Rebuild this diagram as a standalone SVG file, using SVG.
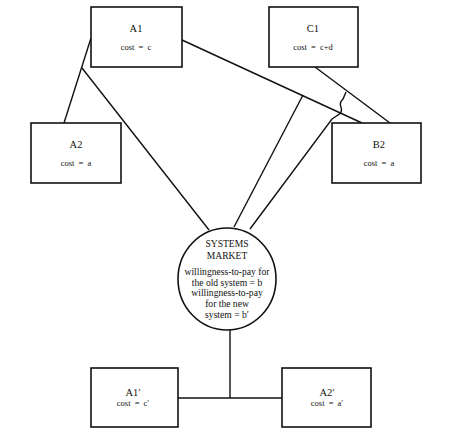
<svg xmlns="http://www.w3.org/2000/svg" width="450" height="438" viewBox="0 0 450 438">
<style>
.box{fill:#fff;stroke:#111;stroke-width:1.6}
.ln{fill:none;stroke:#111;stroke-width:1.4}
.t{font-family:"Liberation Serif",serif;fill:#111;text-anchor:middle}
.nm{font-size:10.5px}
.cs{font-size:8.5px;word-spacing:2px}
.ct{font-size:9.6px}
</style>
<rect width="450" height="438" fill="#fff"/>
<g id="connectors">
<path class="ln" d="M91,38 L64,123"/>
<path class="ln" d="M82,68 L209,230"/>
<path class="ln" d="M182,40 L362,123"/>
<path class="ln" d="M315,67 L390,123"/>
<path class="ln" d="M303,95 L234,227"/>
<path class="ln" d="M346,92 L343,99 Q339,103 341,107 Q343,112 338,115 L332,119 L250,229"/>
<path class="ln" d="M230,330 L230,398"/>
<path class="ln" d="M178,398 L282,398"/>
</g>
<g id="A1">
<rect class="box" x="91" y="7" width="91" height="60"/>
<text class="t nm" x="136" y="32">A1</text>
<text class="t cs" x="136" y="50">cost = c</text>
</g>
<g id="C1">
<rect class="box" x="269" y="7" width="89" height="60"/>
<text class="t nm" x="313" y="32">C1</text>
<text class="t cs" x="313" y="50">cost = c+d</text>
</g>
<g id="A2">
<rect class="box" x="31" y="123" width="90" height="60"/>
<text class="t nm" x="76" y="148">A2</text>
<text class="t cs" x="76" y="166">cost = a</text>
</g>
<g id="B2">
<rect class="box" x="332" y="123" width="89" height="60"/>
<text class="t nm" x="379" y="148">B2</text>
<text class="t cs" x="379" y="166">cost = a</text>
</g>
<g id="market">
<ellipse class="box" cx="227" cy="279" rx="49" ry="51"/>
<text class="t ct" x="227" y="247">SYSTEMS</text>
<text class="t ct" x="227" y="259">MARKET</text>
<text class="t ct" x="227" y="275">willingness-to-pay for</text>
<text class="t ct" x="227" y="286">the old system = b</text>
<text class="t ct" x="227" y="296">willingness-to-pay</text>
<text class="t ct" x="227" y="307">for the new</text>
<text class="t ct" x="227" y="318">system = b′</text>
</g>
<g id="A1p">
<rect class="box" x="91" y="368" width="87" height="59"/>
<text class="t nm" x="133" y="396">A1′</text>
<text class="t cs" x="133" y="406">cost = c′</text>
</g>
<g id="A2p">
<rect class="box" x="282" y="368" width="89" height="59"/>
<text class="t nm" x="327" y="396">A2′</text>
<text class="t cs" x="327" y="406">cost = a′</text>
</g>
</svg>
